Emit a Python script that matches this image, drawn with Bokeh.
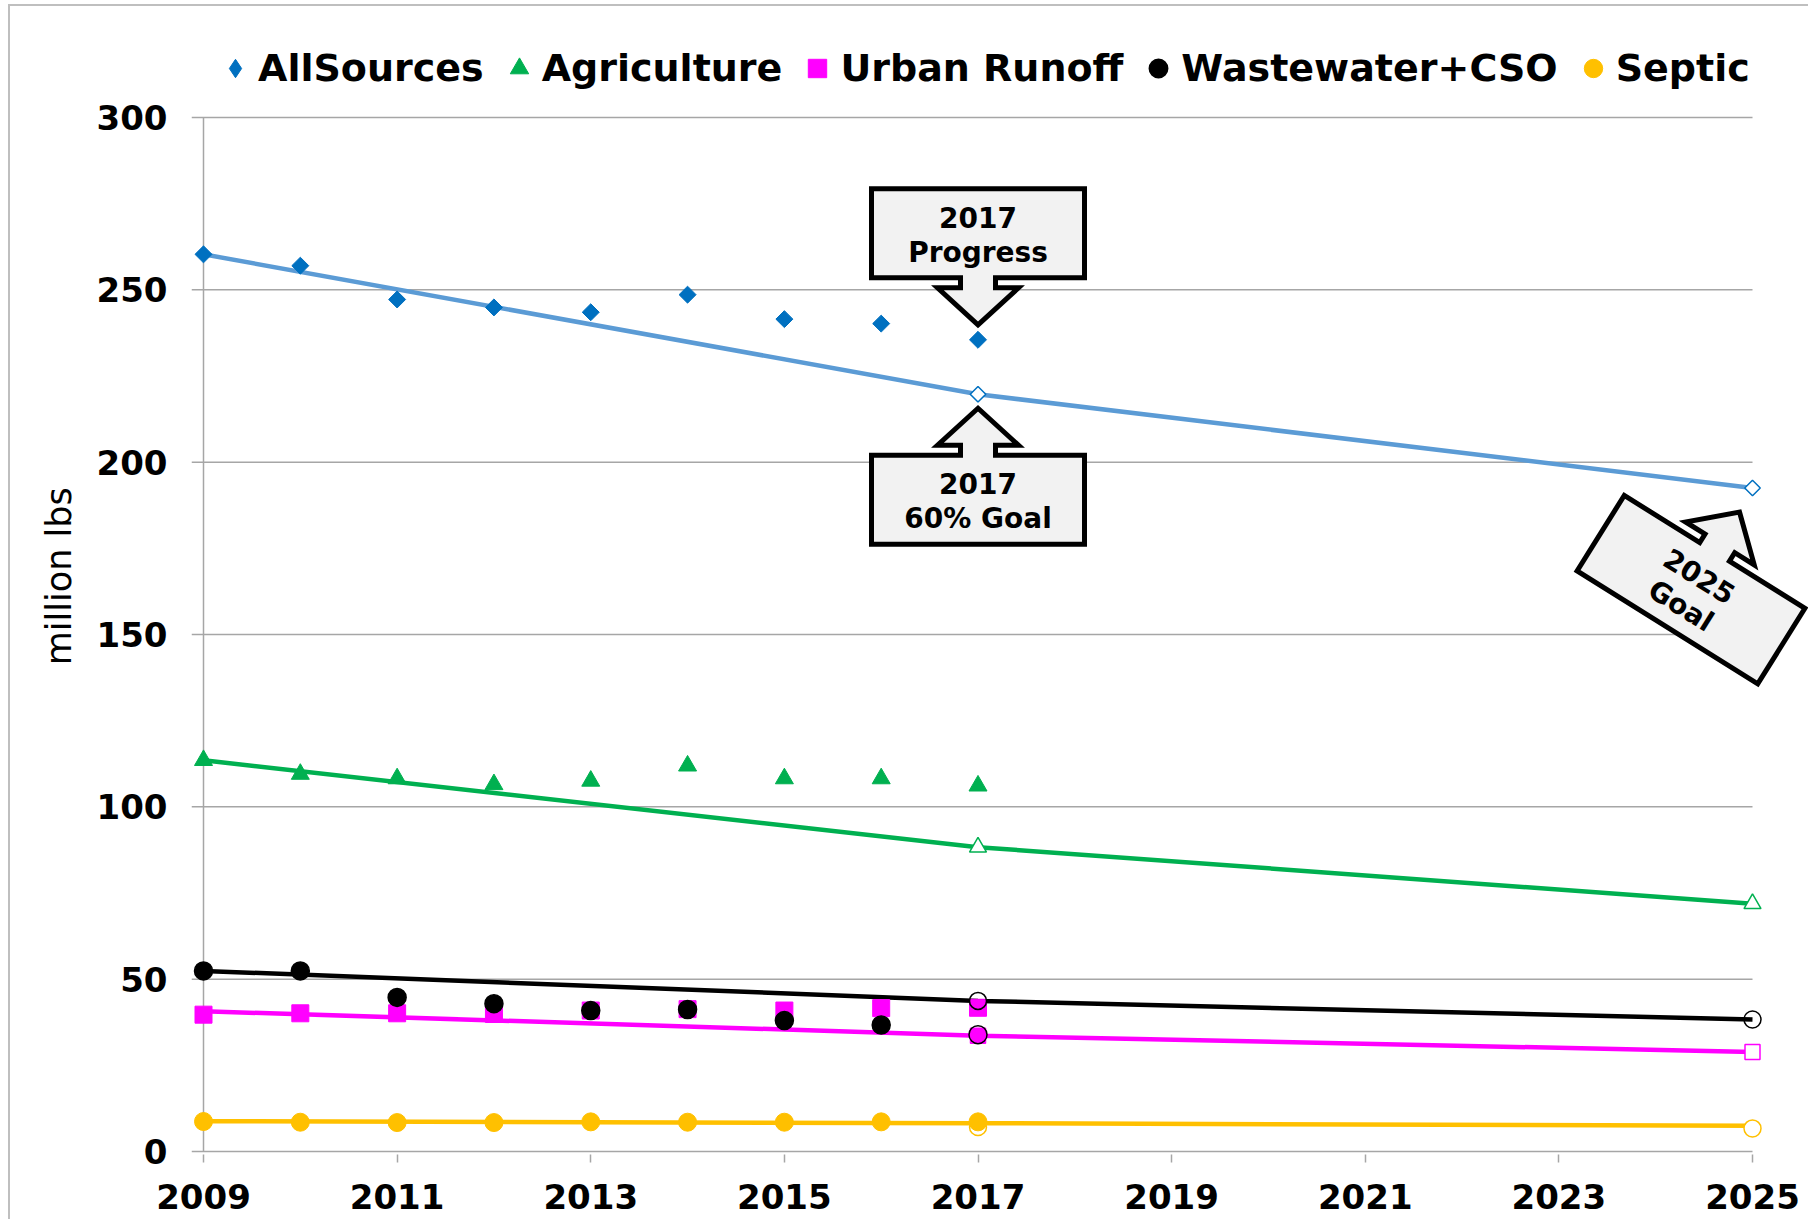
import numpy as np
from bokeh.plotting import figure
from bokeh.models import (Range1d, FixedTicker, Label, PolyAnnotation,
                          Legend, LegendItem, ColumnDataSource)
from bokeh.embed import file_html
from bokeh.resources import INLINE

# ---------------- data ----------------
years = [2009, 2010, 2011, 2012, 2013, 2014, 2015, 2016, 2017]
all_sources = [260.3, 257.0, 247.2, 244.9, 243.5, 248.6, 241.5, 240.2, 235.5]
agriculture = [113.5, 109.5, 108.2, 106.5, 107.5, 111.9, 108.2, 108.2, 106.1]
urban_runoff = [39.7, 40.1, 40.1, 39.9, 40.9, 41.3, 40.9, 41.6, 41.7]
wastewater = [52.4, 52.4, 44.7, 42.9, 40.9, 41.2, 38.0, 36.7, 33.9]
septic = [8.7, 8.5, 8.4, 8.4, 8.6, 8.5, 8.5, 8.6, 8.6]

goal_years = [2017, 2025]
all_sources_goal = [219.7, 192.5]
agriculture_goal = [88.3, 71.9]
urban_goal = [33.6, 28.9]
wastewater_goal = [43.7, 38.3]
septic_goal = [7.1, 6.7]

trend_years = [2009, 2017, 2025]
all_sources_trend = [260.3, 219.7, 192.5]
agriculture_trend = [113.5, 88.3, 71.9]
urban_trend = [40.7, 33.6, 28.9]
wastewater_trend = [52.4, 43.7, 38.3]
septic_trend = [8.8, 8.2, 7.5]

x_ticks = [2009, 2011, 2013, 2015, 2017, 2019, 2021, 2023, 2025]
y_ticks = [0, 50, 100, 150, 200, 250, 300]

# ---------------- layout ----------------
CORE_W = 1549          # pixels from 2009 to 2025
CORE_H = 1034          # pixels from 0 to 300
PAD_L, PAD_R, PAD_B, PAD_T = 12, 56, 3, 86
XPX = CORE_W / (2025 - 2009)
YPX = CORE_H / 300.0
X0 = 2009 - PAD_L / XPX

p = figure(frame_width=CORE_W + PAD_L + PAD_R, frame_height=CORE_H + PAD_B + PAD_T,
           x_range=Range1d(X0, 2025 + PAD_R / XPX),
           y_range=Range1d(-PAD_B / YPX, 300 + PAD_T / YPX),
           output_backend="svg", toolbar_location=None,
           min_border_left=181, min_border_right=0,
           min_border_top=25, min_border_bottom=65)
p.outline_line_color = None
p.background_fill_color = "white"
p.border_fill_color = "white"
p.styles = {"margin-left": "8px", "margin-top": "4px",
            "border-left": "2px solid #BFBFBF", "border-top": "2px solid #BFBFBF"}

GRAY = "#A6A6A6"
FONT = "DejaVu Sans"

# axes
p.yaxis.ticker = FixedTicker(ticks=y_ticks)
p.yaxis.axis_line_color = None
p.yaxis.major_tick_line_color = None
p.yaxis.minor_tick_line_color = None
p.yaxis.major_tick_out = 0
p.yaxis.major_label_standoff = 24
p.yaxis.major_label_text_font = FONT
p.yaxis.major_label_text_font_size = "34px"
p.yaxis.major_label_text_font_style = "bold"
p.yaxis.major_label_text_color = "black"
p.yaxis.axis_label = "\u00a0" * 3 + "million lbs"
p.yaxis.axis_label_standoff = 15
p.yaxis.axis_label_text_font = FONT
p.yaxis.axis_label_text_font_size = "35px"
p.yaxis.axis_label_text_font_style = "normal"
p.yaxis.axis_label_text_color = "black"

p.xaxis.ticker = FixedTicker(ticks=x_ticks)
p.xaxis.axis_line_color = None
p.xaxis.major_tick_line_color = GRAY
p.xaxis.major_tick_line_width = 1.5
p.xaxis.major_tick_out = 8
p.xaxis.major_tick_in = 0
p.xaxis.minor_tick_line_color = None
p.xaxis.major_label_standoff = 21
p.xaxis.major_label_text_font = FONT
p.xaxis.major_label_text_font_size = "34px"
p.xaxis.major_label_text_font_style = "bold"
p.xaxis.major_label_text_color = "black"

p.grid.visible = False

# horizontal gridlines (incl. tick stubs left of the axis) and the vertical axis line
n = len(y_ticks)
p.segment(x0=[X0] * n, y0=y_ticks, x1=[x_ticks[-1]] * n, y1=y_ticks,
          line_color=GRAY, line_width=1.5)
p.segment(x0=[x_ticks[0]], y0=[y_ticks[0]], x1=[x_ticks[0]], y1=[y_ticks[-1]],
          line_color=GRAY, line_width=1.5)

C_ALL_M, C_ALL_L = "#0070C0", "#5B9BD5"
C_AG, C_UR, C_WW, C_SE = "#00B050", "#FF00FF", "#000000", "#FFC000"
LW = 4.5

# trend lines
p.line(trend_years, all_sources_trend, line_color=C_ALL_L, line_width=LW)
p.line(trend_years, agriculture_trend, line_color=C_AG, line_width=LW)
p.line(trend_years, wastewater_trend, line_color=C_WW, line_width=LW)
p.line(trend_years, urban_trend, line_color=C_UR, line_width=LW)
p.line(trend_years, septic_trend, line_color=C_SE, line_width=LW)

# urban runoff
r_ur = p.scatter(years, urban_runoff, marker="square", size=17,
                 fill_color=C_UR, line_color=C_UR)
ur_goal_src = ColumnDataSource(dict(x=goal_years, y=urban_goal,
                                    fc=[C_UR] + ["white"] * (len(goal_years) - 1)))
p.scatter("x", "y", source=ur_goal_src, marker="square", size=15,
          fill_color="fc", line_color=C_UR, line_width=1.5)

# wastewater
ww_src = ColumnDataSource(dict(x=years, y=wastewater,
                               fa=[1.0] * (len(years) - 1) + [0.0]))
r_ww = p.scatter("x", "y", source=ww_src, marker="circle", size=18,
                 fill_color=C_WW, fill_alpha="fa", line_color=C_WW, line_width=1.5)
p.scatter(goal_years, wastewater_goal, marker="circle", size=17,
          fill_alpha=0, line_color=C_WW, line_width=1.5)

# septic
p.scatter(goal_years, septic_goal, marker="circle", size=17,
          fill_color="white", line_color=C_SE, line_width=1.5)
r_se = p.scatter(years, septic, marker="circle", size=18,
                 fill_color=C_SE, line_color=C_SE)

# agriculture
p.scatter(goal_years, agriculture_goal, marker="triangle", size=17,
          fill_color="white", line_color=C_AG, line_width=1.5)
r_ag = p.scatter(years, agriculture, marker="triangle", size=18,
                 fill_color=C_AG, line_color=C_AG)

# all sources (rotated squares as diamonds)
p.scatter(goal_years, all_sources_goal, marker="square", angle=np.pi / 4, size=11,
          fill_color="white", line_color=C_ALL_M, line_width=1.5)
p.scatter(years, all_sources, marker="square", angle=np.pi / 4, size=12,
          fill_color=C_ALL_M, line_color=C_ALL_M)
# hidden twin used only for the legend swatch (legend swatches ignore angle)
r_all_leg = p.scatter(years, all_sources, marker="diamond", size=12,
                      fill_color=C_ALL_M, line_color=C_ALL_M, visible=False)

# legend (inside the extended frame, above the plotting area)
legend = Legend(items=[LegendItem(label="AllSources", renderers=[r_all_leg]),
                       LegendItem(label="Agriculture", renderers=[r_ag]),
                       LegendItem(label="Urban Runoff", renderers=[r_ur]),
                       LegendItem(label="Wastewater+CSO", renderers=[r_ww]),
                       LegendItem(label="Septic", renderers=[r_se])],
                orientation="horizontal", location=(21, 1063),
                label_text_font=FONT, label_text_font_size="38px",
                label_text_font_style="bold", label_text_color="black",
                glyph_width=46, glyph_height=46, label_standoff=0, spacing=12,
                padding=0, margin=0, border_line_color=None,
                background_fill_alpha=0, inactive_fill_alpha=0,
                click_policy="none")
p.add_layout(legend)

# callouts
SHAPE = [(0, 0), (40.5, -37), (17.5, -37), (17.5, -47), (106.5, -47),
         (106.5, -136), (-106.5, -136), (-106.5, -47), (-17.5, -47),
         (-17.5, -37), (-40.5, -37)]


def callout(tip_x, tip_y, lines, down=False, theta_deg=0.0):
    th = np.radians(theta_deg)
    sgn = -1.0 if down else 1.0

    def tr(u, v):
        uu = u * np.cos(th) + v * np.sin(th)
        vv = -u * np.sin(th) + v * np.cos(th)
        return tip_x + uu / XPX, tip_y + vv / YPX

    pts = [tr(u, v * sgn) for u, v in SHAPE]
    p.add_layout(PolyAnnotation(xs=[a for a, b in pts], ys=[b for a, b in pts],
                                xs_units="data", ys_units="data",
                                fill_color="#F2F2F2", fill_alpha=1.0,
                                line_color="black", line_alpha=1.0,
                                line_width=5, line_join="miter"))
    cv = -91.5 * sgn  # box centre, screen-up coordinate relative to tip (before rotation)
    for i, t in enumerate(lines):
        off = 17.5 - 35.0 * i - 1.5
        lx, ly = tr(0, cv + off)
        p.add_layout(Label(x=lx, y=ly, text=t, text_align="center",
                           text_baseline="middle", angle=-th,
                           text_font=FONT, text_font_size="28px",
                           text_font_style="bold", text_color="black"))


callout(2017, all_sources[-1] + 15 / YPX, ["2017", "Progress"], down=True)
callout(2017, all_sources_goal[0] - 14 / YPX, ["2017", "60% Goal"], down=False)
callout(2025 - 13 / XPX, all_sources_goal[1] - 24 / YPX, ["2025", "Goal"],
        down=False, theta_deg=32)

open("out.html", "w").write(file_html(p, INLINE))
